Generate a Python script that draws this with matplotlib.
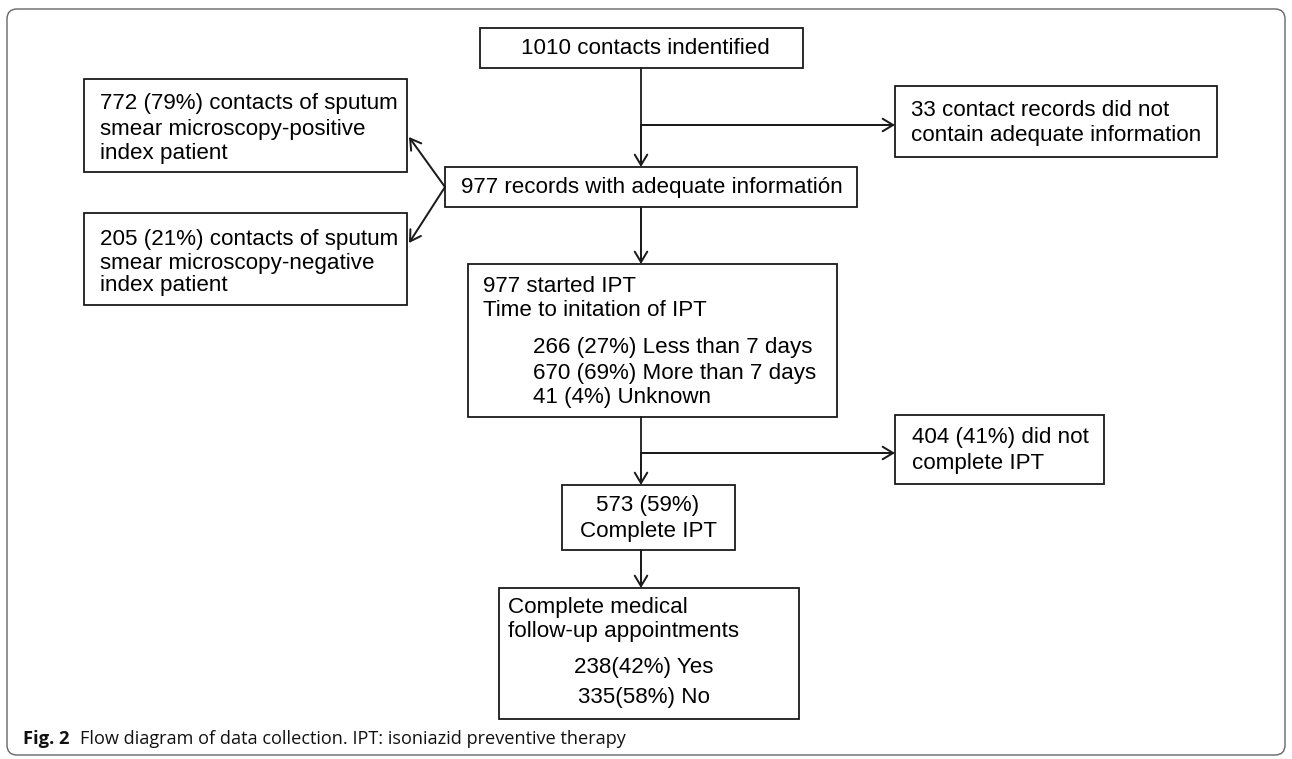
import matplotlib
matplotlib.use("Agg")
import matplotlib.pyplot as plt
from matplotlib.patches import Rectangle, FancyBboxPatch, FancyArrowPatch

# flow diagram texts
top_label = "1010 contacts indentified"
excluded_label = ["33 contact records did not", "contain adequate information"]
adequate_label = "977 records with adequate informatión"
positive_label = ["772 (79%) contacts of sputum", "smear microscopy-positive", "index patient"]
negative_label = ["205 (21%) contacts of sputum", "smear microscopy-negative", "index patient"]
started_head = ["977 started IPT", "Time to initation of IPT"]
started_items = ["266 (27%) Less than 7 days", "670 (69%) More than 7 days", "41 (4%) Unknown"]
not_complete_label = ["404 (41%) did not", "complete IPT"]
complete_label = ["573 (59%)", "Complete IPT"]
followup_head = ["Complete medical", "follow-up appointments"]
followup_items = ["238(42%) Yes", "335(58%) No"]
caption_bold = "Fig. 2"
caption_text = "Flow diagram of data collection. IPT: isoniazid preventive therapy"

W, H = 1292, 759
fig = plt.figure(figsize=(W / 100, H / 100), dpi=100)
ax = fig.add_axes([0, 0, 1, 1])
ax.set_xlim(0, W)
ax.set_ylim(H, 0)
ax.axis("off")

FONT = "Liberation Sans"
FS = 16.1
LW = 1.3
INK = "#1a1a1a"


def box(x0, y0, x1, y1):
    ax.add_patch(Rectangle((x0, y0), x1 - x0, y1 - y0, fill=False,
                           edgecolor=INK, linewidth=LW))


def lines(texts, x, ys, ha="left"):
    for t, y in zip(texts, ys):
        ax.text(x, y, t, ha=ha, va="center", fontsize=FS, family=FONT, color="#000000")


def arrow(p0, p1):
    ax.add_patch(FancyArrowPatch(p0, p1, arrowstyle="->,head_length=5,head_width=3",
                                 color=INK, linewidth=LW * 1.1, mutation_scale=1.5,
                                 shrinkA=0, shrinkB=0))


def seg(p0, p1):
    ax.plot([p0[0], p1[0]], [p0[1], p1[1]], color=INK, linewidth=LW)


# outer frame
ax.add_patch(FancyBboxPatch((7, 9), 1278, 746, boxstyle="round,pad=0,rounding_size=10",
                            fill=False, edgecolor="#666666", linewidth=1.0))

# boxes
box(480, 28, 803, 68)
lines([top_label], 645, [49], ha="center")

box(895, 86, 1217, 157)
lines(excluded_label, 911, [110, 135])

box(445, 167, 857, 207)
lines([adequate_label], 652, [188], ha="center")

box(84, 79, 407, 172)
lines(positive_label, 100, [104, 129, 154])

box(84, 213, 407, 305)
lines(negative_label, 100, [240, 263, 286])

box(468, 264, 837, 417)
lines(started_head, 483, [287, 311])
lines(started_items, 533, [348, 373, 398])

box(895, 415, 1104, 484)
lines(not_complete_label, 912, [438, 463])

box(562, 485, 735, 550)
lines(complete_label, 648, [506, 532], ha="center")

box(499, 588, 799, 719)
lines(followup_head, 508, [607, 631])
lines(followup_items, 644, [668, 698], ha="center")

# connectors
seg((641, 68), (641, 125))
arrow((641, 125), (641, 167))
arrow((641, 125), (895, 125))
arrow((445, 187), (409, 137))
arrow((445, 187), (409, 243))
arrow((641, 207), (641, 264))
seg((641, 417), (641, 453))
arrow((641, 453), (641, 485))
arrow((641, 453), (895, 453))
arrow((641, 550), (641, 588))

# caption
t1 = ax.text(23, 739, caption_bold, ha="left", va="center", fontsize=13.2,
             family="Open Sans", fontweight="bold", color="#111111")
fig.canvas.draw()
bb = t1.get_window_extent(fig.canvas.get_renderer())
ax.text(bb.x1 + 11, 739, caption_text, ha="left", va="center", fontsize=13.1,
        family="Open Sans", color="#111111")

fig.savefig("out.png", dpi=100)
